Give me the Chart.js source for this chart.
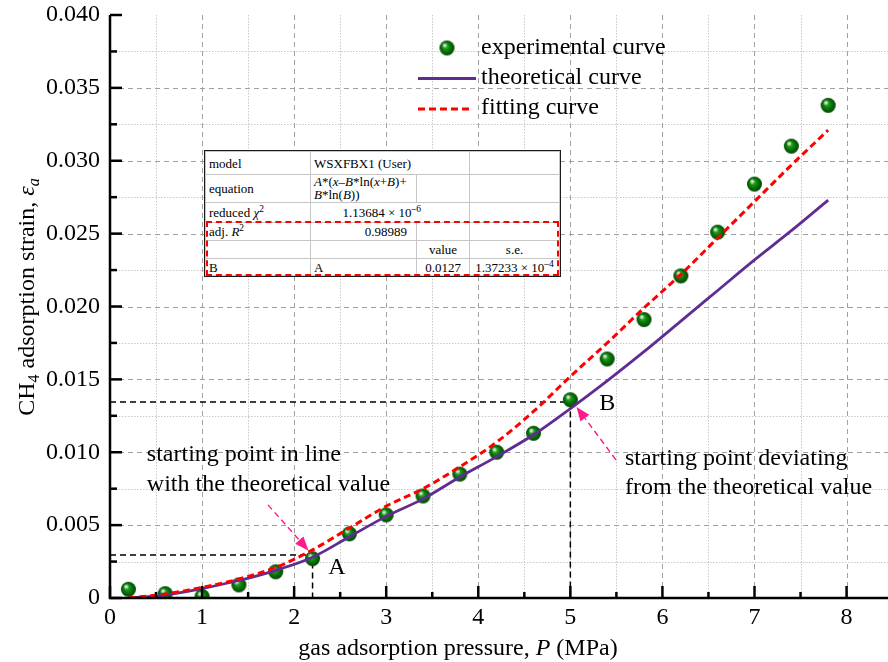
<!DOCTYPE html>
<html>
<head>
<meta charset="utf-8">
<script src="https://cdn.jsdelivr.net/npm/chart.js@4.4.0/dist/chart.umd.min.js"></script>
<style>
html, body { margin: 0; padding: 0; background: #fff; }
#wrap { position: relative; width: 888px; height: 662px; overflow: hidden; }
#fitTable {
  position: absolute; left: 205px; top: 151px; width: 354px;
  border-collapse: collapse; table-layout: fixed;
  font-family: 'Liberation Serif', 'Times New Roman', serif; font-size: 13px; color: #000;
  background: #fff; outline: 1.5px solid #1a1a1a;
}
#fitTable td { border: 1px solid #c6c6c6; padding: 0 3px; line-height: 13px; white-space: nowrap; overflow: visible; }
#fitTable sup { font-size: 9.5px; line-height: 0; vertical-align: 5px; }
#redBox { position: absolute; left: 206px; top: 221px; width: 353px; height: 55px; box-sizing: border-box; border: 2px dashed #ff0000; }
</style>
</head>
<body>
<div id="wrap">
<canvas id="strainChart" width="888" height="662"></canvas>
<table id="fitTable">
  <colgroup><col style="width:105px"><col style="width:106px"><col style="width:53px"><col style="width:90px"></colgroup>
  <tr style="height:23px"><td>model</td><td colspan="2">WSXFBX1 (User)</td><td></td></tr>
  <tr style="height:28px"><td>equation</td><td style="vertical-align:top"><i>A</i>*(<i>x</i>&ndash;<i>B</i>*ln(<i>x</i>+<i>B</i>)+<br><i>B</i>*ln(<i>B</i>))</td><td></td><td></td></tr>
  <tr style="height:20px"><td>reduced <i>&chi;</i><sup>2</sup></td><td colspan="2" style="text-align:right;padding-right:48px">1.13684 &times; 10<sup>&ndash;6</sup></td><td></td></tr>
  <tr style="height:18px"><td>adj. <i>R</i><sup>2</sup></td><td style="text-align:right;padding-right:9px">0.98989</td><td></td><td></td></tr>
  <tr style="height:18px"><td></td><td></td><td style="text-align:center">value</td><td style="text-align:center">s.e.</td></tr>
  <tr style="height:17px"><td>B</td><td>A</td><td style="text-align:center">0.0127</td><td style="text-align:center">1.37233 &times; 10<sup>&ndash;4</sup></td></tr>
</table>
<div id="redBox"></div>
</div>
<script>
// data
const pressure = [0.2, 0.6, 1.0, 1.4, 1.8, 2.2, 2.6, 3.0, 3.4, 3.8, 4.2, 4.6, 5.0, 5.4, 5.8, 6.2, 6.6, 7.0, 7.4, 7.8];
const experimental = [0.0006, 0.0003, 0.0001, 0.0009, 0.0018, 0.0027, 0.0044, 0.0057, 0.0070, 0.0085, 0.0100, 0.0113, 0.0136, 0.0164, 0.0191, 0.0221, 0.0251, 0.0284, 0.0310, 0.0338];
const theoretical = [0.0000, 0.0002, 0.00065, 0.0012, 0.0019, 0.0028, 0.0042, 0.0056, 0.0068, 0.0083, 0.0097, 0.0112, 0.0130, 0.0149, 0.0169, 0.0190, 0.0211, 0.0232, 0.0252, 0.0273];
const fitting = [0.0000, 0.00027, 0.00073, 0.0013, 0.0021, 0.0033, 0.0048, 0.0063, 0.0075, 0.0090, 0.0107, 0.0128, 0.0152, 0.0175, 0.0199, 0.0222, 0.0247, 0.0272, 0.0297, 0.0321];

// reference points A and B (dashed guides)
const pointA = { x: 2.2, y: 0.00295 };
const pointB = { x: 5.0, y: 0.01345 };

const xMajor = [0, 1, 2, 3, 4, 5, 6, 7, 8];
const xLabels = ['0', '1', '2', '3', '4', '5', '6', '7', '8'];
const xMinor = [0.5, 1.5, 2.5, 3.5, 4.5, 5.5, 6.5, 7.5];
const yMajor = [0, 0.005, 0.010, 0.015, 0.020, 0.025, 0.030, 0.035, 0.040];
const yLabels = ['0', '0.005', '0.010', '0.015', '0.020', '0.025', '0.030', '0.035', '0.040'];
const yMinor = [0.0025, 0.0075, 0.0125, 0.0175, 0.0225, 0.0275, 0.0325, 0.0375];

const serif = "'Liberation Serif', 'Times New Roman', serif";
Chart.defaults.font.family = serif;
Chart.defaults.color = '#000';

const purple = '#5f2d91';
const red = '#ff0000';
const pink = '#ff1a8c';

function makeSphere(r) {
  const c = document.createElement('canvas');
  c.width = c.height = Math.ceil(r * 2) + 2;
  const g = c.getContext('2d');
  const m = c.width / 2;
  const body = g.createRadialGradient(m - r * 0.25, m - r * 0.3, r * 0.1, m, m, r);
  body.addColorStop(0, '#3fb03f');
  body.addColorStop(0.45, '#0a820a');
  body.addColorStop(1, '#004400');
  g.fillStyle = body;
  g.beginPath(); g.arc(m, m, r, 0, Math.PI * 2); g.fill();
  const hl = g.createRadialGradient(m - r * 0.3, m - r * 0.35, 0, m - r * 0.3, m - r * 0.35, r * 0.38);
  hl.addColorStop(0, 'rgba(255,255,255,1)');
  hl.addColorStop(1, 'rgba(255,255,255,0)');
  g.fillStyle = hl;
  g.beginPath(); g.arc(m, m, r, 0, Math.PI * 2); g.fill();
  return c;
}
const sphere = makeSphere(7.5);

const near = (a, b) => Math.abs(a - b) < 1e-9;

function drawArrow(ctx, x0, y0, x1, y1) {
  const ang = Math.atan2(y1 - y0, x1 - x0);
  const hl = 14, hw = 5.5;
  const bx = x1 - hl * Math.cos(ang), by = y1 - hl * Math.sin(ang);
  ctx.save();
  ctx.strokeStyle = pink; ctx.fillStyle = pink;
  ctx.lineWidth = 1.4; ctx.setLineDash([6, 4]);
  ctx.beginPath(); ctx.moveTo(x0, y0); ctx.lineTo(bx, by); ctx.stroke();
  ctx.setLineDash([]);
  ctx.beginPath();
  ctx.moveTo(x1, y1);
  ctx.lineTo(bx + hw * Math.sin(ang), by - hw * Math.cos(ang));
  ctx.lineTo(bx - hw * Math.sin(ang), by + hw * Math.cos(ang));
  ctx.closePath(); ctx.fill();
  ctx.restore();
}

function drawParts(ctx, parts, cx, y) {
  let total = 0;
  parts.forEach(p => { ctx.font = p.f + ' ' + serif; p.w = ctx.measureText(p.t).width; total += p.w; });
  let x = cx - total / 2;
  parts.forEach(p => { ctx.font = p.f + ' ' + serif; ctx.fillText(p.t, x, y + (p.dy || 0)); x += p.w; });
}

const framePlugin = {
  id: 'frame',
  beforeDatasetsDraw(chart) {
    const { ctx, chartArea: a, scales: { x, y } } = chart;
    ctx.save();
    ctx.lineWidth = 1;
    // minor grid, dotted
    ctx.strokeStyle = '#c8c8c8'; ctx.setLineDash([1.5, 1.5]);
    xMinor.forEach(v => { const p = Math.round(x.getPixelForValue(v)) + 0.5; ctx.beginPath(); ctx.moveTo(p, a.top); ctx.lineTo(p, a.bottom); ctx.stroke(); });
    yMinor.forEach(v => { const p = Math.round(y.getPixelForValue(v)) + 0.5; ctx.beginPath(); ctx.moveTo(a.left, p); ctx.lineTo(a.right, p); ctx.stroke(); });
    // major grid, dashed
    ctx.strokeStyle = '#a0a0a0'; ctx.setLineDash([5, 4]);
    xMajor.slice(1).forEach(v => { const p = Math.round(x.getPixelForValue(v)) + 0.5; ctx.beginPath(); ctx.moveTo(p, a.top); ctx.lineTo(p, a.bottom); ctx.stroke(); });
    yMajor.slice(1, -1).forEach(v => { const p = Math.round(y.getPixelForValue(v)) + 0.5; ctx.beginPath(); ctx.moveTo(a.left, p); ctx.lineTo(a.right, p); ctx.stroke(); });
    ctx.restore();
  },
  afterDatasetsDraw(chart) {
    const { ctx, chartArea: a, scales: { x, y } } = chart;
    ctx.save();
    ctx.strokeStyle = '#000'; ctx.lineWidth = 2.5; ctx.setLineDash([]);
    ctx.beginPath(); ctx.moveTo(a.left, a.top); ctx.lineTo(a.left, a.bottom); ctx.lineTo(a.right, a.bottom); ctx.stroke();
    const tick = (vals, len, horiz) => vals.forEach(v => {
      ctx.beginPath();
      if (horiz) { const p = x.getPixelForValue(v); ctx.moveTo(p, a.bottom); ctx.lineTo(p, a.bottom - len); }
      else { const p = y.getPixelForValue(v); ctx.moveTo(a.left, p); ctx.lineTo(a.left + len, p); }
      ctx.stroke();
    });
    tick(xMajor, 12, true); tick(xMinor, 6, true);
    tick(yMajor, 12, false); tick(yMinor, 7, false);

    // annotations
    drawArrow(ctx, x.getPixelForValue(1.716), y.getPixelForValue(0.00639), x.getPixelForValue(2.157), y.getPixelForValue(0.00325));
    drawArrow(ctx, x.getPixelForValue(5.495), y.getPixelForValue(0.00948), x.getPixelForValue(5.067), y.getPixelForValue(0.01311));
    ctx.fillStyle = '#000'; ctx.font = '24px ' + serif; ctx.textBaseline = 'alphabetic'; ctx.textAlign = 'left';
    let px = x.getPixelForValue(0.4), py = y.getPixelForValue(0.00937);
    ctx.fillText('starting point in line', px, py);
    ctx.fillText('with the theoretical value', px, py + 30);
    px = x.getPixelForValue(5.593); py = y.getPixelForValue(0.00914);
    ctx.fillText('starting point deviating', px, py);
    ctx.fillText('from the theoretical value', px, py + 29);
    ctx.fillText('A', x.getPixelForValue(2.37), y.getPixelForValue(0.00165));
    ctx.fillText('B', x.getPixelForValue(5.313), y.getPixelForValue(0.01292));

    // legend
    ctx.drawImage(sphere, 447 - sphere.width / 2, 48 - sphere.height / 2);
    ctx.lineWidth = 3; ctx.strokeStyle = purple;
    ctx.beginPath(); ctx.moveTo(418, 78.5); ctx.lineTo(476, 78.5); ctx.stroke();
    ctx.strokeStyle = red; ctx.setLineDash([7, 4]);
    ctx.beginPath(); ctx.moveTo(418, 109); ctx.lineTo(472, 109); ctx.stroke();
    ctx.setLineDash([]);
    ctx.textBaseline = 'middle';
    ctx.fillText('experimental curve', 481, 48);
    ctx.fillText('theoretical curve', 481, 78);
    ctx.fillText('fitting curve', 481, 108);

    // axis titles
    ctx.textBaseline = 'alphabetic';
    drawParts(ctx, [{ t: 'gas adsorption pressure, ', f: '24px' }, { t: 'P', f: 'italic 24px' }, { t: ' (MPa)', f: '24px' }], 458, 655);
    ctx.translate(34, 297);
    ctx.rotate(-Math.PI / 2);
    drawParts(ctx, [{ t: 'CH', f: '24px' }, { t: '4', f: '16px', dy: 5 }, { t: ' adsorption strain, ', f: '24px' }, { t: '\u03b5', f: 'italic 24px' }, { t: 'a', f: 'italic 16px', dy: 5 }], 0, 0);
    ctx.restore();
  }
};

const toXY = (xs, ys) => xs.map((v, i) => ({ x: v, y: ys[i] }));

new Chart(document.getElementById('strainChart'), {
  type: 'scatter',
  data: {
    datasets: [
      { label: 'fitting curve', data: toXY(pressure, fitting), showLine: true, borderColor: red, borderWidth: 3, borderDash: [7, 4], pointRadius: 0, cubicInterpolationMode: 'monotone', order: 0 },
      { label: 'theoretical curve', data: toXY(pressure, theoretical), showLine: true, borderColor: purple, borderWidth: 2.8, pointRadius: 0, cubicInterpolationMode: 'monotone', order: 1 },
      { label: 'experimental curve', data: toXY(pressure, experimental), pointStyle: sphere, pointRadius: 7.5, order: 2 },
      { label: 'guide A', data: [{ x: 0, y: pointA.y }, { x: pointA.x, y: pointA.y }, { x: pointA.x, y: 0 }], showLine: true, borderColor: '#000', borderWidth: 1.5, borderDash: [6, 4], pointRadius: 0, order: 3 },
      { label: 'guide B', data: [{ x: 0, y: pointB.y }, { x: pointB.x, y: pointB.y }, { x: pointB.x, y: 0 }], showLine: true, borderColor: '#000', borderWidth: 1.5, borderDash: [6, 4], pointRadius: 0, order: 3 }
    ]
  },
  options: {
    responsive: false,
    animation: false,
    events: [],
    layout: { autoPadding: false, padding: { top: 15, right: 0, bottom: 0, left: 0 } },
    plugins: { legend: { display: false }, tooltip: { enabled: false } },
    scales: {
      x: {
        type: 'linear', min: 0, max: 8.45,
        grid: { display: false, drawTicks: false }, border: { display: false },
        afterBuildTicks: ax => { ax.ticks = xMajor.concat(xMinor).sort((a, b) => a - b).map(v => ({ value: v })); },
        afterFit: s => { s.height = 64; },
        ticks: {
          autoSkip: false, maxRotation: 0, padding: 5, font: { size: 24 },
          callback: v => { const i = xMajor.findIndex(m => near(m, v)); return i >= 0 ? xLabels[i] : ''; }
        }
      },
      y: {
        min: 0, max: 0.04,
        grid: { display: false, drawTicks: false }, border: { display: false },
        afterBuildTicks: ax => { ax.ticks = yMajor.concat(yMinor).sort((a, b) => a - b).map(v => ({ value: v })); },
        afterFit: s => { s.width = 110; },
        ticks: {
          autoSkip: false, padding: 10, font: { size: 24, lineHeight: 0.4 },
          callback: v => { const i = yMajor.findIndex(m => near(m, v)); return i >= 0 ? yLabels[i] : ''; }
        }
      }
    }
  },
  plugins: [framePlugin]
});
</script>
</body>
</html>
